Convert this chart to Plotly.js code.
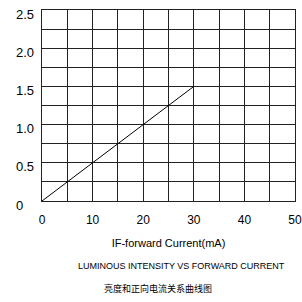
<!DOCTYPE html>
<html><head><meta charset="utf-8">
<script src="https://cdn.plot.ly/plotly-3.0.1.min.js"></script>
<style>html,body{margin:0;padding:0;background:#fff}#c{width:302px;height:302px}</style>
</head><body><div id="c"></div>
<script>
const currentMA = [0, 30];
const intensity = [0, 1.5];
const xTickVals = [0, 10, 20, 30, 40, 50];
const xTickText = ['0', '10', '20', '30', '40', '50'];
const yTickVals = [0, 0.5, 1.0, 1.5, 2.0, 2.5];
const yTickText = ['0', '0.5', '1.0', '1.5', '2.0', '2.5'];
const xTitle = 'IF-forward Current(mA)';
const subtitleEn = 'LUMINOUS INTENSITY VS FORWARD CURRENT';
const subtitleZh = '亮度和正向电流关系曲线图';

const F = '"Liberation Sans", Arial, sans-serif';
const CJK = '"Noto Sans CJK SC", sans-serif';

// y tick labels are left-aligned in the reference: draw them as annotations placed on the y axis scale
const yLabelAnns = yTickVals.map((v, i) => ({
  text: yTickText[i], xref: 'paper', yref: 'y', x: 0, y: v,
  xanchor: 'left', yanchor: 'middle', xshift: -28, yshift: -4,
  showarrow: false, font: {family: F, size: 13, color: '#000'}
}));

Plotly.newPlot('c', [{
  x: currentMA, y: intensity, mode: 'lines', type: 'scatter',
  line: {color: '#000', width: 1}, hoverinfo: 'skip'
}], {
  width: 302, height: 302,
  margin: {l: 42, r: 7, t: 10, b: 101},
  paper_bgcolor: '#fff', plot_bgcolor: '#fff',
  showlegend: false,
  xaxis: {
    range: [0, 50], tickmode: 'array',
    tickvals: xTickVals, ticktext: xTickText,
    showgrid: true, gridcolor: '#222', gridwidth: 1,
    zeroline: false, showline: true, linecolor: '#222', mirror: true,
    ticks: '', ticklabelstandoff: 8, ticklabeloverflow: 'allow',
    tickfont: {family: F, size: 12, color: '#000'},
    minor: {dtick: 5, showgrid: true, gridcolor: '#222', gridwidth: 1},
    title: {text: xTitle, font: {family: F, size: 11, color: '#000'}, standoff: 12},
    fixedrange: true
  },
  yaxis: {
    range: [0, 2.5], tickmode: 'array',
    tickvals: yTickVals, ticktext: yTickText, showticklabels: false,
    showgrid: true, gridcolor: '#222', gridwidth: 1,
    zeroline: false, showline: true, linecolor: '#222', mirror: true,
    ticks: '',
    minor: {dtick: 0.25, showgrid: true, gridcolor: '#222', gridwidth: 1},
    fixedrange: true
  },
  annotations: yLabelAnns.concat([
    {text: subtitleEn, xref: 'paper', yref: 'paper', x: 0.55, y: -0.34, xanchor: 'center', yanchor: 'middle', showarrow: false, font: {family: F, size: 9, color: '#000'}},
    {text: subtitleZh, xref: 'paper', yref: 'paper', x: 0.46, y: -0.46, xanchor: 'center', yanchor: 'middle', showarrow: false, font: {family: CJK, size: 9, color: '#000'}}
  ])
}, {displayModeBar: false, staticPlot: true});
</script></body></html>
